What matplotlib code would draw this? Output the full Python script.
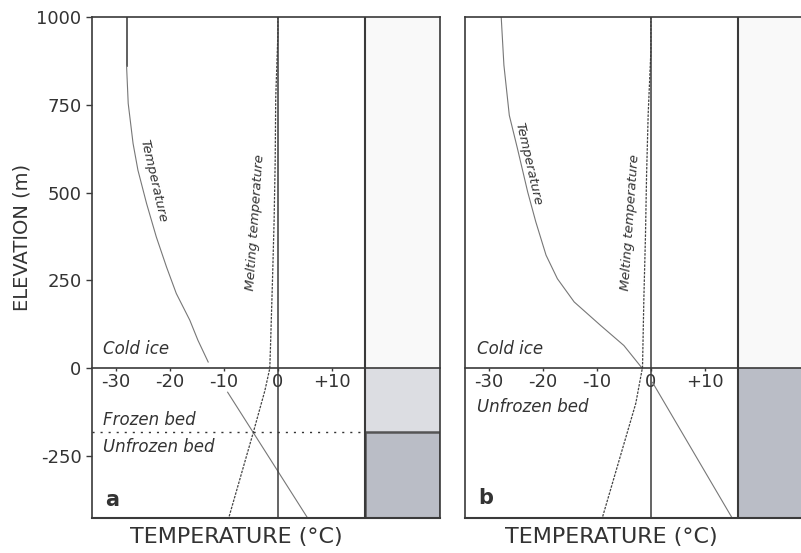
import matplotlib.pyplot as plt
from matplotlib.patches import Rectangle

plt.rcParams['font.family'] = 'DejaVu Sans'
plt.rcParams['axes.unicode_minus'] = False

# panel a: temperature profile in ice and bed
temp_a_top_t = [-28.0, -28.0]
temp_a_top_z = [1000, 860]
temp_a_ice_t = [-28.0, -27.7, -26.8, -25.9, -24.3, -22.5, -20.6, -18.8, -16.3, -14.8, -12.9]
temp_a_ice_z = [860, 754, 640, 564, 469, 374, 288, 213, 137, 80, 18]
temp_a_bed_t = [-9.3, 5.5]
temp_a_bed_z = [-68, -426]
melt_a_t = [0, 0, -0.4, -0.5, -0.7, -1.0, -1.35, -1.5, -2.4, -4.6, -9.1]
melt_a_z = [1000, 950, 770, 590, 420, 250, 71, 0, -63, -185, -426]
frozen_depth_a = -182

# panel b
temp_b_ice_t = [-27.7, -27.2, -26.2, -24.7, -22.8, -21.3, -19.4, -17.3, -14.2, -9.3, -5.0, -1.6]
temp_b_ice_z = [1000, 863, 720, 626, 502, 417, 322, 255, 189, 122, 65, 0]
temp_b_bed_t = [0.3, 15.0]
temp_b_bed_z = [-40, -425]
melt_b_t = [0, 0, -0.5, -0.8, -1.0, -1.3, -1.55, -2.8, -9.0]
melt_b_z = [1000, 903, 724, 550, 379, 199, 3, -100, -426]

xticks = [-30, -20, -10, 0, 10]
xticklabels = ['-30', '-20', '-10', '0', '+10']
yticks = [1000, 750, 500, 250, 0, -250]
yticklabels = ['1000', '750', '500', '250', '0', '-250']

XMIN, XSEP, XMAX = -34.4, 16.1, 30.0
YMIN, YMAX = -426, 1000
FRAME = '#3a3a3a'
TXT = '#333333'
LIGHT = '#f9f9f9'
MID = '#dcdde2'
DARK = '#babdc6'


def setup(ax, show_y):
    ax.set_xlim(XMIN, XMAX)
    ax.set_ylim(YMIN, YMAX)
    for s in ['left', 'right', 'top']:
        ax.spines[s].set_color(FRAME)
        ax.spines[s].set_linewidth(1.2)
    ax.spines['bottom'].set_position(('data', 0))
    ax.spines['bottom'].set_color(FRAME)
    ax.spines['bottom'].set_linewidth(1.2)
    ax.axhline(YMIN, color=FRAME, lw=1.5, clip_on=False, zorder=5)
    ax.set_xticks(xticks)
    ax.set_xticklabels(xticklabels, fontsize=13, color=TXT)
    ax.tick_params(axis='x', direction='out', length=2.5, width=1, pad=1, colors=FRAME)
    ax.tick_params(axis='x', labelcolor=TXT)
    if show_y:
        ax.set_yticks(yticks)
        ax.set_yticklabels(yticklabels, fontsize=13, color=TXT)
        ax.tick_params(axis='y', direction='out', length=4.5, width=1, pad=3, colors=FRAME)
        ax.tick_params(axis='y', labelcolor=TXT)
    else:
        ax.set_yticks([])
    # vertical reference lines
    ax.axvline(0, color=FRAME, lw=1.1, zorder=3)
    ax.axvline(XSEP, color=FRAME, lw=1.5, zorder=4)
    # strip at right
    ax.add_patch(Rectangle((XSEP, 0), XMAX - XSEP, YMAX, facecolor=LIGHT, edgecolor='none', zorder=1))


fig = plt.figure(figsize=(8.01, 5.53), dpi=100)
ax_a = fig.add_axes([92 / 801, 35 / 553, 348 / 801, 501 / 553])
ax_b = fig.add_axes([465 / 801, 35 / 553, 348 / 801, 501 / 553])

# ---- panel a ----
setup(ax_a, True)
ax_a.add_patch(Rectangle((XSEP, frozen_depth_a), XMAX - XSEP, -frozen_depth_a,
                         facecolor=MID, edgecolor='none', zorder=1))
ax_a.add_patch(Rectangle((XSEP, YMIN), XMAX - XSEP, frozen_depth_a - YMIN,
                         facecolor=DARK, edgecolor='#555555', lw=1.8, zorder=2))
ax_a.plot([XMIN, XSEP], [frozen_depth_a, frozen_depth_a], color=TXT, lw=1,
          linestyle=(0, (1.5, 4.3)), zorder=3)
ax_a.plot(temp_a_top_t, temp_a_top_z, color='#444444', lw=1.2)
ax_a.plot(temp_a_ice_t, temp_a_ice_z, color='#777777', lw=0.8)
ax_a.plot(temp_a_bed_t, temp_a_bed_z, color='#777777', lw=0.8)
ax_a.plot(melt_a_t, melt_a_z, color='#444444', lw=0.9, linestyle=(0, (2, 1)))

ax_a.text(-23.1, 534, 'Temperature', rotation=-77, fontsize=9.5, style='italic',
          color=TXT, ha='center', va='center', rotation_mode='anchor')
ax_a.text(-4.1, 415, 'Melting temperature', rotation=86, fontsize=9.5, style='italic',
          color=TXT, ha='center', va='center', rotation_mode='anchor')
ax_a.text(-32.4, 54, 'Cold ice', fontsize=12, style='italic', color=TXT, va='center')
ax_a.text(-32.4, -148, 'Frozen bed', fontsize=12, style='italic', color=TXT, va='center')
ax_a.text(-32.4, -224, 'Unfrozen bed', fontsize=12, style='italic', color=TXT, va='center')
ax_a.text(-32.0, -375, 'a', fontsize=15, fontweight='bold', color=TXT, va='center')

# ---- panel b ----
setup(ax_b, False)
ax_b.add_patch(Rectangle((XSEP, YMIN), XMAX - XSEP, -YMIN,
                         facecolor=DARK, edgecolor='none', zorder=1))
ax_b.plot(temp_b_ice_t, temp_b_ice_z, color='#777777', lw=0.8)
ax_b.plot(temp_b_bed_t, temp_b_bed_z, color='#777777', lw=0.8)
ax_b.plot(melt_b_t, melt_b_z, color='#444444', lw=0.9, linestyle=(0, (2, 1)))

ax_b.text(-22.6, 582, 'Temperature', rotation=-77, fontsize=9.5, style='italic',
          color=TXT, ha='center', va='center', rotation_mode='anchor')
ax_b.text(-3.9, 415, 'Melting temperature', rotation=86, fontsize=9.5, style='italic',
          color=TXT, ha='center', va='center', rotation_mode='anchor')
ax_b.text(-32.1, 54, 'Cold ice', fontsize=12, style='italic', color=TXT, va='center')
ax_b.text(-32.1, -111, 'Unfrozen bed', fontsize=12, style='italic', color=TXT, va='center')
ax_b.text(-31.9, -370, 'b', fontsize=15, fontweight='bold', color=TXT, va='center')

# axis titles
fig.text(22 / 801, 1 - 237 / 553, 'ELEVATION (m)', rotation=90, fontsize=14,
         color=TXT, ha='center', va='center')
fig.text(236 / 801, 1 - 537 / 553, 'TEMPERATURE (°C)', fontsize=16,
         color=TXT, ha='center', va='center')
fig.text(611 / 801, 1 - 537 / 553, 'TEMPERATURE (°C)', fontsize=16,
         color=TXT, ha='center', va='center')

fig.savefig('out.png', dpi=100)
